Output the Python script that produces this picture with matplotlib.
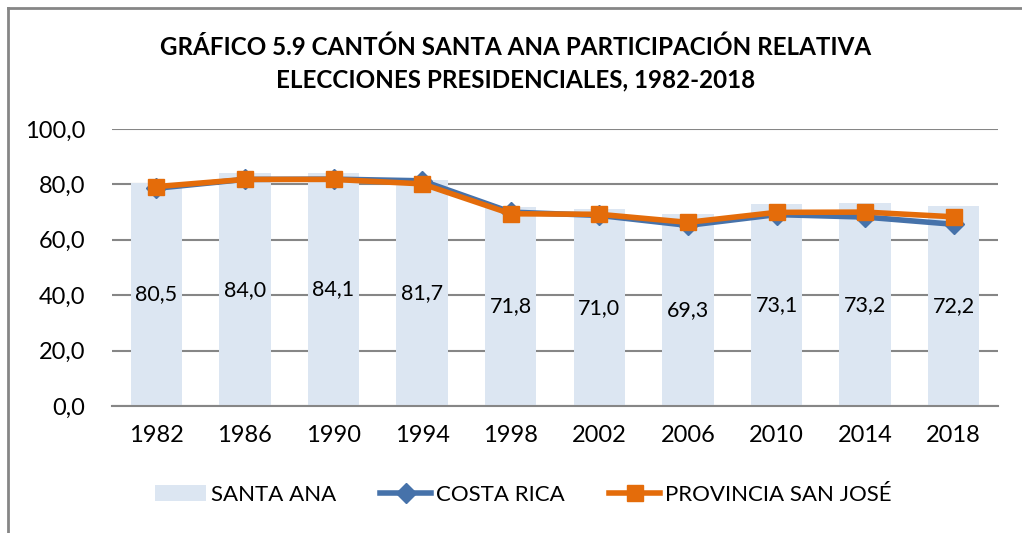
import matplotlib
matplotlib.use("Agg")
import matplotlib.pyplot as plt
from matplotlib.lines import Line2D
from matplotlib.patches import Patch

years = ["1982", "1986", "1990", "1994", "1998", "2002", "2006", "2010", "2014", "2018"]
santa_ana = [80.5, 84.0, 84.1, 81.7, 71.8, 71.0, 69.3, 73.1, 73.2, 72.2]
costa_rica = [78.6, 81.8, 81.9, 81.3, 70.0, 68.8, 65.2, 69.1, 68.2, 65.6]
prov_san_jose = [79.2, 81.8, 81.8, 80.2, 69.4, 69.2, 66.3, 69.9, 70.0, 68.3]
y_ticks = [0, 20, 40, 60, 80, 100]
y_tick_labels = ["0,0", "20,0", "40,0", "60,0", "80,0", "100,0"]

plt.rcParams['font.family'] = ['Lato', 'DejaVu Sans']

BAR_C = "#DCE6F2"
BLUE = "#4672AA"
ORANGE = "#E46C0A"
GRID = "#868686"

fig = plt.figure(figsize=(10.22, 5.33), dpi=100)
ax = fig.add_axes([112/1022, 1-406/533, (998-112)/1022, (406-129)/533])

x = list(range(len(years)))
ax.bar(x, santa_ana, width=0.58, color=BAR_C, zorder=1)
for xi, v in zip(x, santa_ana):
    ax.text(xi, v/2, f"{v:.1f}".replace(".", ","), ha="center", va="center",
            fontsize=15.5, color="black", zorder=5)

ax.plot(x, costa_rica, color=BLUE, lw=4, marker="D", markersize=10,
        markerfacecolor=BLUE, markeredgecolor=BLUE, zorder=3)
ax.plot(x, prov_san_jose, color=ORANGE, lw=4, marker="s", markersize=12,
        markerfacecolor=ORANGE, markeredgecolor=ORANGE, zorder=4)

ax.set_ylim(0, 100)
ax.set_xlim(-0.5, len(years)-0.5)
ax.set_yticks(y_ticks)
ax.set_yticklabels(y_tick_labels)
ax.set_xticks(x)
ax.set_xticklabels(years)
ax.yaxis.grid(True, color=GRID, lw=1.5, zorder=0)
ax.set_axisbelow(True)
for s in ["top", "right", "left"]:
    ax.spines[s].set_visible(False)
ax.spines["bottom"].set_color(GRID)
ax.spines["bottom"].set_linewidth(1.5)
ax.tick_params(axis="both", length=0, labelsize=17)
ax.tick_params(axis="y", pad=19.5)
ax.tick_params(axis="x", pad=14)

fig.text(516/1022, 1-47/533, "GRÁFICO 5.9 CANTÓN SANTA ANA PARTICIPACIÓN RELATIVA",
         ha="center", va="center", fontsize=17.4, fontweight="bold")
fig.text(516/1022, 1-80/533, "ELECCIONES PRESIDENCIALES, 1982-2018",
         ha="center", va="center", fontsize=17.4, fontweight="bold")

handles = [
    Patch(facecolor=BAR_C, edgecolor="none"),
    Line2D([0], [0], color=BLUE, lw=4, marker="D", markersize=10),
    Line2D([0], [0], color=ORANGE, lw=4, marker="s", markersize=11),
]
labels = ["SANTA ANA", "COSTA RICA", "PROVINCIA SAN JOSÉ"]
fig.legend(handles, labels, loc="center", bbox_to_anchor=(523/1022, 1-495/533),
           ncol=3, frameon=False, fontsize=16, handlelength=2.3,
           handletextpad=0.2, columnspacing=2.0)

# outer border (top and left visible)
fig.add_artist(Line2D([8/1022, 8/1022], [0, 1-8/533], transform=fig.transFigure,
                      color=GRID, lw=2))
fig.add_artist(Line2D([8/1022, 1], [1-8/533, 1-8/533], transform=fig.transFigure,
                      color=GRID, lw=2))

fig.savefig("out.png", dpi=100)
